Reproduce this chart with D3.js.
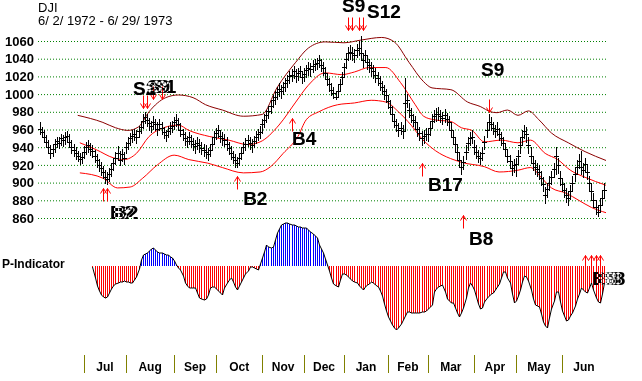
<!DOCTYPE html>
<html>
<head>
<meta charset="utf-8">
<script src="https://cdn.jsdelivr.net/npm/d3@7"></script>
<style>
  html, body { margin: 0; padding: 0; background: #fff; }
  svg { display: block; font-family: "Liberation Sans", Arial, sans-serif; }
</style>
</head>
<body>
<div id="chart"></div>
<script>
// trading days per month, Jun 1972 .. Jun 1973
const monthDays = [21, 20, 23, 20, 22, 20, 19, 21, 19, 22, 20, 22, 21];
const monthNames = ["Jul", "Aug", "Sep", "Oct", "Nov", "Dec", "Jan", "Feb", "Mar", "Apr", "May", "Jun"];
const priceTicks = [860, 880, 900, 920, 940, 960, 980, 1000, 1020, 1040, 1060];

// daily DJI bars
const high = [
  968, 963, 959, 954, 948, 942, 943, 949, 952, 951, 955, 954, 957, 958, 955, 948, 944, 940, 936, 934, 935,
  941, 946, 948, 945, 942, 937, 932, 927, 923, 919, 914, 912, 916, 921, 928, 935, 941, 936, 938, 935,
  946, 951, 956, 959, 961, 959, 964, 969, 977, 980, 978, 973, 970, 975, 972, 968, 972, 968, 963, 960, 964, 968, 970,
  974, 977, 973, 967, 961, 957, 953, 957, 954, 950, 948, 951, 949, 946, 944, 942, 939, 944, 950, 958,
  962, 965, 960, 957, 955, 951, 946, 941, 936, 932, 929, 934, 940, 946, 950, 954, 952, 949, 953, 958, 961, 964,
  972, 977, 982, 987, 993, 999, 1003, 1008, 1012, 1010, 1014, 1018, 1022, 1026, 1028, 1032, 1028, 1030, 1032, 1026,
  1029, 1033, 1036, 1035, 1038, 1040, 1041, 1044, 1040, 1036, 1031, 1024, 1018, 1012, 1008, 1004, 1010, 1017, 1025,
  1035, 1046, 1053, 1055, 1053, 1051, 1057, 1060, 1066, 1046, 1050, 1043, 1040, 1036, 1033, 1029, 1025, 1020, 1015, 1010, 1006,
  999, 993, 986, 977, 972, 967, 968, 965, 1018, 1000, 990, 984, 978, 975, 968, 963, 958, 960, 962,
  961, 968, 977, 982, 984, 985, 982, 980, 983, 979, 975, 967, 959, 951, 942, 933, 925, 930, 942, 952, 957, 959,
  948, 942, 937, 935, 940, 953, 968, 977, 974, 969, 965, 968, 962, 957, 952, 945, 937, 931, 924, 927,
  928, 937, 950, 959, 965, 963, 952, 940, 930, 926, 922, 920, 913, 906, 895, 900, 908, 913, 922, 940, 928, 913,
  905, 900, 894, 891, 897, 908, 918, 926, 932, 936, 922, 928, 920, 908, 898, 888, 880, 875, 882, 890, 899
];
const low = [
  955, 951, 946, 940, 933, 928, 930, 935, 940, 939, 942, 941, 944, 946, 940, 934, 930, 927, 924, 921, 922,
  928, 932, 935, 931, 929, 923, 918, 913, 909, 905, 900, 898, 902, 908, 914, 921, 926, 920, 924, 921,
  933, 938, 943, 946, 948, 945, 951, 956, 962, 967, 964, 960, 957, 961, 959, 954, 959, 955, 950, 947, 951, 955, 957,
  961, 964, 959, 953, 948, 943, 940, 944, 940, 937, 934, 938, 935, 932, 930, 928, 926, 930, 937, 945,
  949, 952, 946, 943, 941, 937, 932, 927, 922, 918, 918, 920, 927, 933, 937, 941, 938, 935, 940, 945, 948, 950,
  956, 963, 968, 973, 979, 985, 989, 994, 998, 996, 1000, 1004, 1008, 1012, 1015, 1018, 1014, 1016, 1019, 1012,
  1015, 1019, 1022, 1021, 1025, 1027, 1028, 1031, 1026, 1022, 1017, 1010, 1004, 999, 996, 994, 998, 1004, 1011,
  1020, 1029, 1038, 1040, 1038, 1036, 1042, 1044, 1038, 1031, 1036, 1028, 1025, 1021, 1018, 1014, 1010, 1005, 1000, 995, 991,
  984, 978, 970, 963, 958, 953, 955, 950, 960, 985, 974, 968, 964, 961, 953, 948, 942, 945, 948,
  947, 954, 962, 968, 970, 971, 968, 966, 969, 965, 960, 952, 944, 936, 927, 918, 910, 915, 927, 937, 943, 945,
  932, 928, 923, 921, 926, 938, 952, 960, 959, 955, 951, 954, 948, 943, 938, 931, 923, 917, 909, 912,
  907, 922, 934, 944, 950, 946, 934, 922, 914, 910, 907, 904, 897, 890, 877, 884, 892, 898, 906, 910, 911, 897,
  890, 884, 878, 875, 882, 892, 902, 910, 916, 910, 906, 913, 904, 892, 882, 872, 865, 862, 868, 875, 884
];
const close = [
  961, 957, 952, 946, 940, 934, 938, 944, 947, 945, 950, 948, 952, 953, 946, 940, 937, 933, 930, 927, 929,
  935, 940, 942, 938, 936, 930, 925, 920, 916, 912, 906, 904, 910, 915, 922, 928, 934, 926, 932, 928,
  940, 945, 950, 953, 955, 952, 958, 963, 970, 974, 971, 967, 964, 969, 966, 961, 966, 962, 957, 954, 958, 962, 964,
  968, 971, 966, 960, 955, 950, 947, 951, 947, 944, 941, 945, 942, 939, 937, 935, 932, 937, 944, 952,
  956, 959, 953, 950, 948, 944, 939, 934, 929, 925, 922, 928, 934, 940, 944, 948, 945, 942, 947, 952, 955, 957,
  966, 971, 976, 981, 987, 993, 997, 1002, 1006, 1003, 1008, 1012, 1016, 1020, 1022, 1026, 1021, 1024, 1026, 1019,
  1023, 1027, 1030, 1028, 1032, 1034, 1035, 1038, 1033, 1029, 1024, 1017, 1011, 1005, 1001, 997, 1004, 1011, 1019,
  1031, 1040, 1046, 1048, 1046, 1044, 1050, 1052, 1047, 1039, 1044, 1036, 1033, 1029, 1026, 1022, 1018, 1013, 1008, 1003, 999,
  992, 985, 978, 970, 965, 960, 962, 958, 990, 993, 982, 976, 971, 968, 961, 956, 950, 953, 955,
  955, 962, 970, 975, 977, 978, 975, 973, 976, 972, 968, 960, 952, 944, 935, 926, 918, 923, 935, 945, 950, 952,
  940, 935, 930, 928, 933, 946, 960, 968, 966, 962, 958, 961, 955, 950, 945, 938, 930, 924, 917, 920,
  921, 930, 942, 952, 958, 955, 942, 930, 922, 918, 915, 912, 905, 898, 886, 893, 900, 906, 915, 930, 920, 905,
  898, 892, 886, 883, 890, 900, 910, 918, 924, 918, 914, 921, 912, 900, 890, 880, 872, 867, 875, 883, 892
];

// bands as [day, level]
const upperBand = [[18,976],[30,968],[36,962],[42,959],[47,963],[52,980],[60,996],[66,999],[73,996],[79,988],[87,982],[97,975],[106,977],[113,1007],[122,1036],[128,1052],[136,1059],[145,1058],[153,1061],[163,1064],[169,1059],[176,1036],[183,1014],[187,1007],[196,1005],[204,991],[210,986],[215,980],[218,979],[223,982],[228,976],[233,981],[238,971],[244,956],[252,945],[260,935],[270,925]];
const middleBand = [[19,945],[27,937],[35,928],[40,926],[46,933],[52,952],[59,962],[66,965],[71,959],[81,952],[90,948],[99,943],[105,946],[114,965],[122,991],[128,1010],[136,1024],[144,1022],[150,1025],[157,1030],[165,1030],[172,1013],[179,988],[183,975],[188,971],[196,969],[201,962],[206,959],[212,946],[220,948],[228,945],[234,948],[241,933],[247,926],[253,914],[260,906],[270,897]];
const lowerBand = [[19,911],[30,905],[37,894],[43,895],[49,905],[56,920],[64,931],[71,926],[80,922],[87,917],[97,911],[105,912],[110,918],[116,933],[123,952],[127,971],[133,980],[142,988],[150,990],[158,993],[165,991],[171,980],[177,965],[182,950],[187,939],[201,923],[212,918],[219,912],[228,914],[234,917],[239,906],[244,894],[251,888],[257,880],[263,872],[270,866]];

// P-Indicator, one value per day from day pStart
const pStart = 25;
const pValues = [
  -1, -12, -20, -25, -29, -31, -32, -31, -27, -23,
  -20, -18, -17, -16, -16, -15, -16, -16, -17, -17,
  -14, -11, -3, 6, 11, 12, 13, 15, 17, 18,
  16, 14, 13, 13, 12, 11, 11, 9, 8, 5,
  1, -2, -4, -10, -17, -20, -22, -22, -22, -22,
  -27, -32, -33, -34, -33, -29, -22, -21, -21, -23,
  -25, -27, -29, -22, -17, -14, -12, -16, -21, -24,
  -20, -16, -12, -8, -5, -1, -1, -2, -3, -4,
  2, 8, 14, 21, 19, 18, 19, 26, 33, 37,
  41, 42, 43, 43, 42, 41, 41, 40, 39, 39,
  38, 38, 38, 36, 34, 32, 30, 28, 21, 17,
  13, 7, 1, -5, -12, -18, -20, -21, -14, -8,
  -8, -9, -11, -13, -15, -16, -17, -20, -22, -24,
  -21, -19, -18, -16, -17, -19, -21, -25, -30, -38,
  -45, -51, -55, -59, -62, -64, -62, -58, -54, -50,
  -46, -46, -47, -47, -47, -47, -47, -46, -46, -45,
  -43, -41, -39, -26, -23, -21, -20, -19, -26, -33,
  -35, -37, -37, -42, -47, -51, -47, -42, -32, -22,
  -17, -20, -24, -31, -38, -43, -42, -36, -32, -30,
  -28, -27, -24, -21, -18, -12, -6, -6, -12, -17,
  -28, -37, -35, -30, -24, -16, -10, -11, -15, -24,
  -33, -39, -40, -41, -48, -56, -60, -62, -52, -43,
  -35, -26, -26, -36, -45, -50, -55, -54, -50, -47,
  -40, -33, -28, -22, -24, -26, -27, -22, -17, -24,
  -32, -36, -37, -28, -17
];

// buy / sell signals: arrow day and tip level, label anchor in day / level
const signals = [
  { day: 30, type: "B", tip: 894, label: "B2", labelDay: 33.4, labelLevel: 859 },
  { day: 32, type: "B", tip: 894, label: "B2", labelDay: 35.3, labelLevel: 859 },
  { day: 49, type: "S", tip: 984, label: "S2", labelDay: 44.4, labelLevel: 999 },
  { day: 51, type: "S", tip: 984, label: "" },
  { day: 54, type: "S", tip: 994, label: "S9", labelDay: 51, labelLevel: 1001 },
  { day: 58, type: "S", tip: 994, label: "S1", labelDay: 53.9, labelLevel: 1001 },
  { day: 94, type: "B", tip: 908, label: "B2", labelDay: 96.9, labelLevel: 875 },
  { day: 120, type: "B", tip: 973, label: "B4", labelDay: 120.2, labelLevel: 942 },
  { day: 147, type: "S", tip: 1072, label: "S9", labelDay: 144.1, labelLevel: 1093 },
  { day: 149, type: "S", tip: 1072, label: "" },
  { day: 152, type: "S", tip: 1072, label: "S12", labelDay: 156, labelLevel: 1086 },
  { day: 154, type: "S", tip: 1072, label: "" },
  { day: 182, type: "B", tip: 922, label: "B17", labelDay: 185.1, labelLevel: 890 },
  { day: 202, type: "B", tip: 863, label: "B8", labelDay: 204.7, labelLevel: 829 },
  { day: 214, type: "S", tip: 980, label: "S9", labelDay: 210.4, labelLevel: 1020 },
  { day: 260, type: "B", tip: 818, label: "B8", labelDay: 263.4, labelLevel: 784 },
  { day: 263, type: "B", tip: 818, label: "B8", labelDay: 265.7, labelLevel: 784 },
  { day: 265, type: "B", tip: 818, label: "B8", labelDay: 267.6, labelLevel: 784 },
  { day: 267, type: "B", tip: 818, label: "" }
];

const width = 642, height = 381;
const nDays = close.length;

const svg = d3.select("#chart").append("svg")
    .attr("width", width)
    .attr("height", height);

svg.append("rect").attr("width", width).attr("height", height).attr("fill", "#fff");

const x = d3.scaleLinear().domain([0, nDays]).range([40, 606]);
const y = d3.scaleLinear().domain([860, 1060]).range([218, 41]);
const py = d3.scaleLinear().domain([-70, 50]).range([336, 216]);
const px = i => Math.round(x(i)) + 0.5;

// title
svg.append("text").attr("x", 38).attr("y", 12).attr("font-size", 13).text("DJI");
svg.append("text").attr("x", 38).attr("y", 25).attr("font-size", 13).text("6/ 2/ 1972 - 6/ 29/ 1973");

// price grid + labels
const yAxis = svg.append("g")
    .attr("transform", "translate(38,0)")
    .call(d3.axisLeft(y).tickValues(priceTicks).tickSize(-570).tickPadding(4).tickFormat(d3.format("d")));
yAxis.select(".domain").remove();
yAxis.selectAll("line")
    .attr("stroke", "#008000")
    .attr("stroke-dasharray", "1,2");
yAxis.selectAll("text")
    .attr("fill", "#000")
    .style("font-family", "'Liberation Sans', Arial, sans-serif")
    .style("font-size", "13px")
    .style("font-weight", "bold");

// bands
const bandLine = d3.line()
    .x(d => x(d[0]))
    .y(d => y(d[1]))
    .curve(d3.curveMonotoneX);

svg.append("path").datum(upperBand).attr("d", bandLine).attr("fill", "none").attr("stroke", "#8b0000");
svg.append("path").datum(middleBand).attr("d", bandLine).attr("fill", "none").attr("stroke", "#ff0000");
svg.append("path").datum(lowerBand).attr("d", bandLine).attr("fill", "none").attr("stroke", "#ff0000");

// daily bars
const days = d3.range(nDays);
const bars = svg.append("g").attr("stroke", "#000").attr("stroke-width", 1);
bars.selectAll("line.hl")
    .data(days)
    .join("line")
    .attr("class", "hl")
    .attr("x1", px)
    .attr("x2", px)
    .attr("y1", i => Math.round(y(high[i])))
    .attr("y2", i => Math.round(y(low[i])) + 1);
bars.selectAll("line.cl")
    .data(days)
    .join("line")
    .attr("class", "cl")
    .attr("x1", i => px(i) - 2.5)
    .attr("x2", i => px(i) + 2.5)
    .attr("y1", i => Math.round(y(close[i])) + 0.5)
    .attr("y2", i => Math.round(y(close[i])) + 0.5);

// P-Indicator
svg.append("text")
    .attr("x", 2).attr("y", 268)
    .attr("font-size", 12).attr("font-weight", "bold")
    .text("P-Indicator");

const pg = svg.append("g");
pg.selectAll("line")
    .data(pValues)
    .join("line")
    .attr("x1", (d, k) => px(k + pStart))
    .attr("x2", (d, k) => px(k + pStart))
    .attr("y1", py(0))
    .attr("y2", d => py(d))
    .attr("stroke", d => d < 0 ? "#ff0000" : "#0000ff");

pg.append("path")
    .datum(pValues)
    .attr("d", d3.line().x((d, k) => px(k + pStart)).y(d => py(d)))
    .attr("fill", "none")
    .attr("stroke", "#000");

// month axis
const ends = Array.from(d3.cumsum(monthDays));
const monthStarts = ends.slice(0, -1);

svg.append("g").selectAll("line")
    .data(monthStarts)
    .join("line")
    .attr("x1", px).attr("x2", px)
    .attr("y1", 355).attr("y2", 373)
    .attr("stroke", "#808000");

svg.append("g").selectAll("text")
    .data(monthNames)
    .join("text")
    .attr("x", (m, k) => x((ends[k] + ends[k + 1]) / 2))
    .attr("y", 371)
    .attr("text-anchor", "middle")
    .attr("font-size", 12)
    .attr("font-weight", "bold")
    .text(m => m);

// signal arrows
const ag = svg.append("g").attr("stroke", "#ff0000").attr("fill", "none");
ag.selectAll("path")
    .data(signals)
    .join("path")
    .attr("d", s => {
        const ax = px(s.day);
        const ty = Math.round(y(s.tip)) + 0.5;
        const dir = s.type === "B" ? 1 : -1;
        return `M${ax},${ty}V${ty + dir * 13}M${ax - 3},${ty + dir * 5}L${ax},${ty}L${ax + 3},${ty + dir * 5}`;
    });

// signal labels, overlapping labels knock each other out
const lg = svg.append("g").style("mix-blend-mode", "multiply");
lg.append("rect").attr("width", width).attr("height", height).attr("fill", "#fff");
lg.selectAll("text")
    .data(signals.filter(s => s.label))
    .join("text")
    .attr("x", s => x(s.labelDay))
    .attr("y", s => y(s.labelLevel))
    .attr("fill", "#fff")
    .style("mix-blend-mode", "difference")
    .attr("font-size", 19)
    .attr("font-weight", "bold")
    .text(s => s.label);
</script>
</body>
</html>
